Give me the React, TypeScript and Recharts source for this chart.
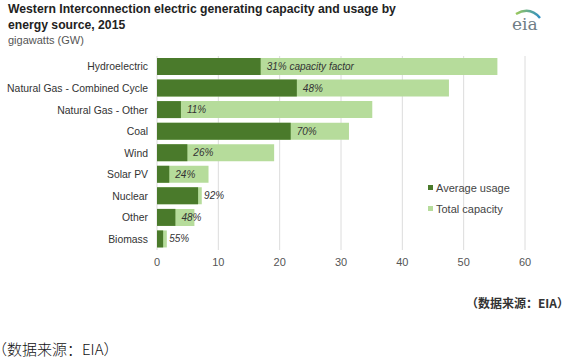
import React from "react";
import {
  BarChart, Bar, XAxis, YAxis, CartesianGrid, LabelList,
} from "recharts";

const DARK = "#4a7a2b";
const LIGHT = "#b6dc9b";
const FONT = "'Liberation Sans', Arial, sans-serif";

const sources = [
  "Hydroelectric",
  "Natural Gas - Combined Cycle",
  "Natural Gas - Other",
  "Coal",
  "Wind",
  "Solar PV",
  "Nuclear",
  "Other",
  "Biomass",
];
const totalCapacity = [55.5, 47.6, 35.1, 31.3, 19.1, 8.4, 7.3, 6.1, 1.6];
const averageUsage = [16.9, 22.8, 3.9, 21.8, 4.95, 2.0, 6.7, 3.0, 1.0];
const capacityFactor = [31, 48, 11, 70, 26, 24, 92, 48, 55];
const xTicks = [0, 10, 20, 30, 40, 50, 60];

const legendItems = [
  { name: "Average usage", color: DARK },
  { name: "Total capacity", color: LIGHT },
];

const data = sources.map((s, i) => ({
  source: s,
  capacity: totalCapacity[i],
  usage: averageUsage[i],
  factor: capacityFactor[i],
}));

function FactorLabel(props: any) {
  const { x, y, width, height, value, index } = props;
  const text = index === 0 ? `${value}% capacity factor` : `${value}%`;
  return (
    <text
      x={x + width + 6}
      y={y + height / 2}
      dy="0.35em"
      fontSize={10}
      fontStyle="italic"
      fill="#333"
      fontFamily={FONT}
    >
      {text}
    </text>
  );
}

// plain tick so long names don't wrap
function SourceTick(props: any) {
  const { x, y, payload } = props;
  return (
    <text x={x} y={y} dy="0.35em" textAnchor="end" fontSize={10.4} fill="#333" fontFamily={FONT}>
      {payload.value}
    </text>
  );
}

function EiaLogo() {
  return (
    <svg width={40} height={30} style={{ position: "absolute", left: 508, top: 6 }}>
      <defs>
        <linearGradient id="eiaArc" x1="0" y1="0" x2="1" y2="0">
          <stop offset="0%" stopColor="#9cc95a" />
          <stop offset="100%" stopColor="#2f8fc4" />
        </linearGradient>
      </defs>
      <path d="M8 8 Q22 0 32 12" stroke="url(#eiaArc)" strokeWidth={2.5} fill="none" />
      <text x={4} y={24} fontSize={17} fontFamily="'DejaVu Serif', serif" fill="#6f7d86">eia</text>
    </svg>
  );
}

export default function App() {
  return (
    <div style={{ position: "absolute", left: 0, top: 0, width: 580, height: 363, background: "#fff", overflow: "hidden" }}>
      <div style={{ position: "absolute", left: 8, top: 1, fontFamily: FONT, fontWeight: "bold", fontSize: 12.2, lineHeight: "16px", color: "#222" }}>
        Western Interconnection electric generating capacity and usage by<br />
        energy source, 2015
      </div>
      <div style={{ position: "absolute", left: 8, top: 34, fontFamily: FONT, fontSize: 11, color: "#555" }}>
        gigawatts (GW)
      </div>
      <EiaLogo />

      <div style={{ position: "absolute", left: 0, top: 0 }}>
        <BarChart
          width={580}
          height={290}
          data={data}
          layout="vertical"
          margin={{ top: 56, right: 55, bottom: 10, left: 0 }}
        >
          <CartesianGrid horizontal={false} stroke="#dcdcdc" />
          <XAxis
            type="number"
            domain={[0, 60]}
            ticks={xTicks}
            axisLine={false}
            tickLine={false}
            height={30}
            tick={{ fill: "#555", fontSize: 11, fontFamily: FONT }}
          />
          <YAxis
            yAxisId="a"
            type="category"
            dataKey="source"
            width={157}
            axisLine={false}
            tickLine={false}
            tickMargin={3}
            interval={0}
            tick={<SourceTick />}
          />
          <YAxis yAxisId="b" type="category" dataKey="source" hide />
          <Bar yAxisId="b" dataKey="capacity" name="Total capacity" fill={LIGHT} barSize={17} isAnimationActive={false} />
          <Bar yAxisId="a" dataKey="usage" name="Average usage" fill={DARK} barSize={17} isAnimationActive={false}>
            <LabelList dataKey="factor" content={<FactorLabel />} />
          </Bar>
        </BarChart>
      </div>

      <div style={{ position: "absolute", left: 428, top: 177, fontFamily: FONT, fontSize: 11, color: "#444" }}>
        {legendItems.map(it => (
          <div key={it.name} style={{ display: "flex", alignItems: "center", height: 21 }}>
            <span style={{ width: 5, height: 5, background: it.color, marginRight: 3, display: "inline-block" }} />
            {it.name}
          </div>
        ))}
      </div>

      <div style={{ position: "absolute", right: 11, top: 294, fontFamily: "'Noto Sans CJK SC', sans-serif", fontWeight: "bold", fontSize: 12, color: "#333" }}>
        （数据来源：EIA）
      </div>
      <div style={{ position: "absolute", left: -8, top: 338, fontFamily: "'Noto Sans CJK SC', sans-serif", fontWeight: 300, fontSize: 15, color: "#111" }}>
        （数据来源：EIA）
      </div>
    </div>
  );
}
